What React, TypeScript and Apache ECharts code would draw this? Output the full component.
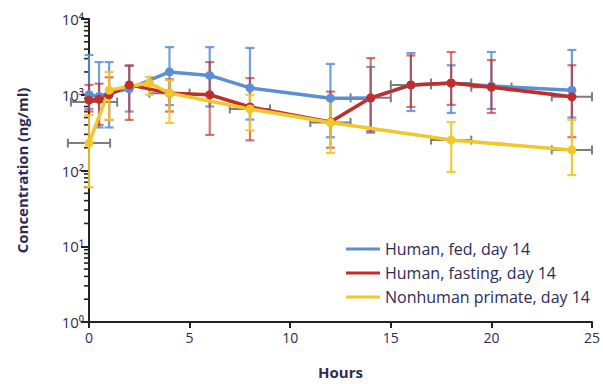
import React, { useEffect, useRef } from "react";
import * as echarts from "echarts";

// Sampling times (hours) and concentrations (ng/ml)
const humanHours = [0, 0.5, 1, 2, 4, 6, 8, 12, 14, 16, 18, 20, 24];

const fedConc = [1000, 950, 1050, 1200, 2000, 1800, 1230, 900, 900, 1350, 1420, 1300, 1150];
const fedLow = [650, 370, 370, 600, 730, 700, 470, 275, 315, 610, 575, 650, 500];
const fedHigh = [3350, 2700, 2700, 2400, 4250, 4250, 4150, 2550, 2330, 3550, 2450, 3670, 3900];

const fastConc = [850, 870, 1000, 1350, 1050, 1000, 690, 436, 910, 1350, 1430, 1260, 940];
const fastLow = [600, 400, 465, 465, 600, 295, 250, 200, 330, 690, 735, 575, 275];
const fastHigh = [1350, 1400, 1700, 2450, 1600, 2700, 1660, 1100, 3050, 3300, 3670, 2870, 2450];

const primateHours = [0, 1, 3, 4, 8, 12, 18, 24];
const primateConc = [230, 1150, 1430, 1050, 650, 430, 252, 187];
const primateLow = [60, 465, 1000, 425, 340, 170, 96, 87];
const primateHigh = [540, 2000, 1720, 1550, 1000, 900, 436, 465];

// Spread of sampling times (horizontal bars)
const timeBarConc = [230, 800, 1050, 650, 430, 910, 1350, 1430, 1260, 940, 252, 187];
const timeBarStart = [-1.05, -0.9, 3, 7, 11, 13, 15, 17, 19, 23, 17, 23];
const timeBarEnd = [1.05, 1.4, 5, 9, 13, 15, 17, 19, 21, 25, 19, 25];

const seriesNames = ["Human, fed, day 14", "Human, fasting, day 14", "Nonhuman primate, day 14"];
const xTicks = [0, 5, 10, 15, 20, 25];
const yTickLabels: Record<number, string> = { 1: "10⁰", 10: "10¹", 100: "10²", 1000: "10³", 10000: "10⁴" };
const minorTickValues = [1, 10, 100, 1000].flatMap((d) => [2, 3, 4, 5, 6, 7, 8, 9].map((m) => m * d));

const BLUE = "#5b8fd3";
const RED = "#bf2e29";
const YELLOW = "#f1c72b";
const FONT = "'Open Sans', 'Noto Sans', sans-serif";
const TEXT = "#2f2a58";

function verticalBars(hours: number[], low: number[], high: number[], color: string) {
  return {
    type: "custom",
    clip: false,
    z: 1,
    silent: true,
    encode: { x: 0, y: [1, 2] },
    data: hours.map((h, i) => [h, low[i], high[i]]),
    renderItem: (params: any, api: any) => {
      const x = api.value(0);
      const top = api.coord([x, api.value(2)]);
      const bot = api.coord([x, api.value(1)]);
      const w = 4.5;
      const style = { stroke: color, lineWidth: 2.2 };
      return {
        type: "group",
        children: [
          { type: "line", shape: { x1: top[0], y1: top[1], x2: bot[0], y2: bot[1] }, style },
          { type: "line", shape: { x1: top[0] - w, y1: top[1], x2: top[0] + w, y2: top[1] }, style },
          { type: "line", shape: { x1: bot[0] - w, y1: bot[1], x2: bot[0] + w, y2: bot[1] }, style },
        ],
      };
    },
  };
}

function lineSeries(name: string, hours: number[], conc: number[], color: string) {
  return {
    name,
    type: "line",
    z: 3,
    data: hours.map((h, i) => [h, conc[i]]),
    symbol: "circle",
    symbolSize: 9,
    lineStyle: { color, width: 3.5 },
    itemStyle: { color },
    clip: false,
  };
}

export default function App() {
  const ref = useRef<HTMLDivElement>(null);

  useEffect(() => {
    document.body.style.margin = "0";
    const chart = echarts.init(ref.current!, null, { renderer: "svg" });

    chart.setOption({
      animation: false,
      backgroundColor: "#ffffff",
      grid: { left: 89, top: 19, right: 6, bottom: 62, containLabel: false },
      legend: {
        data: seriesNames.map((n) => ({ name: n, icon: "rect" })),
        orient: "vertical",
        left: 341,
        top: 236,
        itemWidth: 34,
        itemHeight: 3,
        itemGap: 8,
        textStyle: { fontFamily: FONT, fontSize: 16, color: TEXT },
        selectedMode: false,
      },
      xAxis: {
        type: "value",
        min: 0,
        max: 25,
        interval: 5,
        name: "Hours",
        nameLocation: "middle",
        nameGap: 42,
        nameTextStyle: { fontFamily: FONT, fontSize: 15, fontWeight: "bold", color: TEXT },
        axisLine: { onZero: false, lineStyle: { color: "#222", width: 2 } },
        axisTick: { show: true, length: 6, lineStyle: { color: "#222", width: 2 } },
        axisLabel: {
          fontFamily: FONT,
          fontSize: 14,
          color: TEXT,
          margin: 8,
          formatter: (v: number) => (xTicks.includes(v) ? String(v) : ""),
        },
        splitLine: { show: false },
      },
      yAxis: {
        type: "log",
        logBase: 10,
        min: 1,
        max: 10000,
        name: "Concentration (ng/ml)",
        nameLocation: "middle",
        nameGap: 60,
        nameTextStyle: { fontFamily: FONT, fontSize: 15, fontWeight: "bold", color: TEXT },
        axisLine: { lineStyle: { color: "#222", width: 2 } },
        axisTick: { show: true, length: 8, lineStyle: { color: "#222", width: 2 } },
        axisLabel: {
          fontFamily: FONT,
          fontSize: 15,
          color: TEXT,
          margin: 5,
          formatter: (v: number) => yTickLabels[Math.round(v)] ?? "",
        },
        splitLine: { show: false },
      },
      series: [
        // minor log ticks on the concentration axis
        {
          type: "custom",
          clip: false,
          silent: true,
          z: 0,
          encode: { x: 0, y: 1 },
          data: minorTickValues.map((v) => [0, v]),
          renderItem: (params: any, api: any) => {
            const p = api.coord([api.value(0), api.value(1)]);
            return {
              type: "line",
              shape: { x1: p[0] - 5, y1: p[1], x2: p[0], y2: p[1] },
              style: { stroke: "#222", lineWidth: 1.6 },
            };
          },
        },
        // horizontal spread of sampling times
        {
          type: "custom",
          clip: false,
          silent: true,
          z: 1,
          encode: { x: [1, 2], y: 0 },
          data: timeBarConc.map((c, i) => [c, timeBarStart[i], timeBarEnd[i]]),
          renderItem: (params: any, api: any) => {
            const c = api.value(0);
            const a = api.coord([api.value(1), c]);
            const b = api.coord([api.value(2), c]);
            const h = 4.5;
            const style = { stroke: "#7d7d7d", lineWidth: 2 };
            return {
              type: "group",
              children: [
                { type: "line", shape: { x1: a[0], y1: a[1], x2: b[0], y2: b[1] }, style },
                { type: "line", shape: { x1: a[0], y1: a[1] - h, x2: a[0], y2: a[1] + h }, style },
                { type: "line", shape: { x1: b[0], y1: b[1] - h, x2: b[0], y2: b[1] + h }, style },
              ],
            };
          },
        },
        verticalBars(humanHours, fedLow, fedHigh, "rgba(91,143,211,0.85)"),
        verticalBars(humanHours, fastLow, fastHigh, "rgba(191,46,41,0.65)"),
        verticalBars(primateHours, primateLow, primateHigh, "rgba(241,199,43,0.9)"),
        lineSeries(seriesNames[0], humanHours, fedConc, BLUE),
        lineSeries(seriesNames[1], humanHours, fastConc, RED),
        lineSeries(seriesNames[2], primateHours, primateConc, YELLOW),
      ],
    });

    return () => chart.dispose();
  }, []);

  return <div ref={ref} style={{ width: 603, height: 384 }} />;
}
